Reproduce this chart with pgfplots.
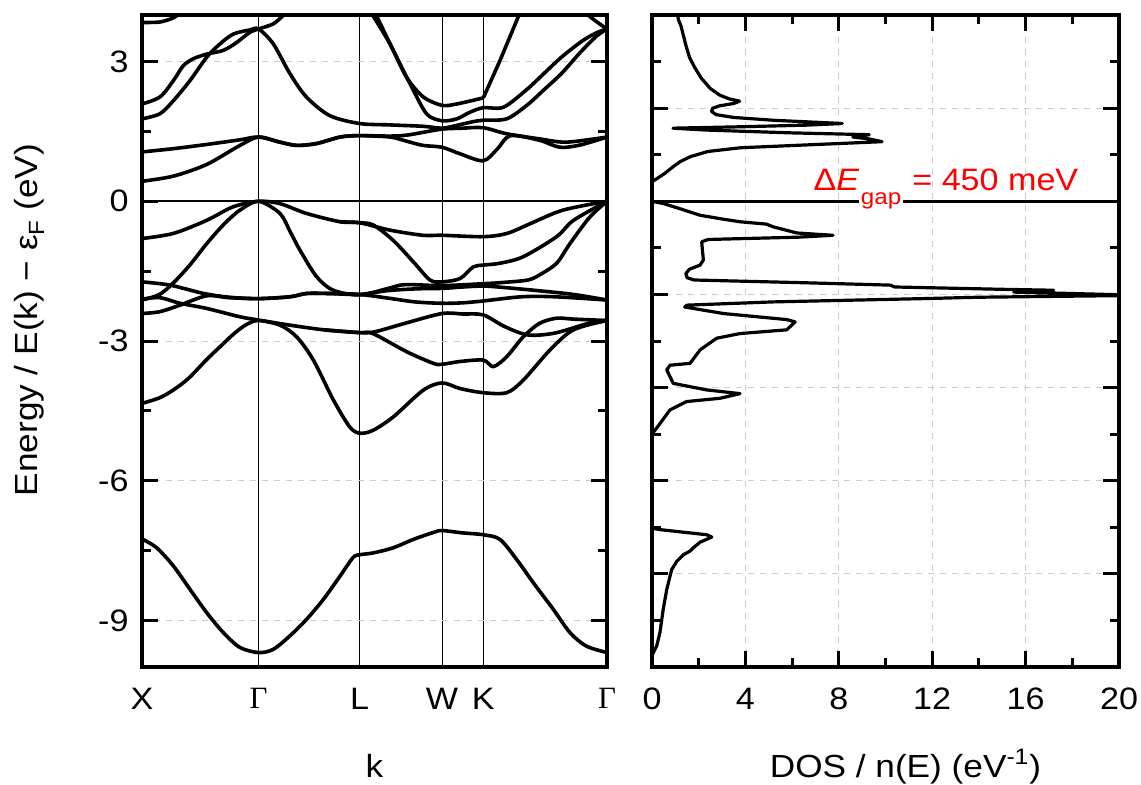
\documentclass[border=0pt]{standalone}
\usepackage{fontspec}
\setmainfont{Liberation Sans}[FakeStretch=1.1]
\newfontfamily\gfont{Liberation Serif}
\usepackage{pgfplots}
\pgfplotsset{compat=1.18}
\setlength{\fboxsep}{0.8pt}
\begin{document}
\begin{tikzpicture}
\useasboundingbox (-71pt,-58.5pt) rectangle (499.5pt,333.5pt);
\pgfplotsset{
  myframe/.style={
    scale only axis, height=326pt,
    ymin=-10, ymax=4,
    axis line style={line width=1.8pt},
    tick style={line width=1.5pt, black},
    major tick length=8pt, minor tick length=4.5pt,
    tick label style={font=\fontsize{15.5}{18}\selectfont},
    /pgf/number format/assume math mode=true,
    label style={font=\fontsize{16}{19}\selectfont},
    xticklabel style={yshift=-7pt},
    yticklabel style={xshift=-3.2pt},
    xlabel style={at={(axis description cs:0.5,0)}, anchor=base, yshift=-55pt},
  },
  band/.style={black, line width=1.8pt, smooth, tension=0.5},
  bandk/.style={black, line width=1.8pt},
  dos/.style={black, line width=1.6pt, line join=round},
}
% ---------------- band structure ----------------
\begin{axis}[myframe,
  at={(0pt,0pt)}, anchor=south west,
  width=232.5pt,
  xmin=0, xmax=3.988,
  xtick={0,1,1.866,2.573,2.927,3.988},
  xticklabels={X,{\gfont Γ},L,W,K,{\gfont Γ}},
  xtick style={draw=none},
  ytick={-9,-6,-3,0,3},
  minor y tick num=1,
  xmajorgrids, ymajorgrids,
  x grid style={black, line width=0.5pt},
  y grid style={dashed, gray!40, line width=0.5pt},
  xlabel={k},
  ylabel={Energy / E(k) − ε\raisebox{-3.5pt}{\fontsize{11}{13}\selectfont F} (eV)},
  ylabel style={at={(axis description cs:-0.2258,0.532)}, anchor=base},
]
% Fermi level
\addplot[black, line width=1pt] coordinates {(0,0) (3.988,0)};
% lowest valence band
\addplot[band] coordinates {(0,-7.25) (0.126,-7.44) (0.269,-7.83) (0.411,-8.33) (0.554,-8.83) (0.697,-9.26) (0.84,-9.58) (1,-9.69) (1.126,-9.62) (1.269,-9.33) (1.41,-8.98) (1.555,-8.55) (1.698,-8.05) (1.81,-7.65) (1.866,-7.59) (1.984,-7.55) (2.155,-7.44) (2.327,-7.26) (2.5,-7.11) (2.573,-7.07) (2.75,-7.12) (2.927,-7.16) (3.07,-7.26) (3.213,-7.69) (3.356,-8.19) (3.527,-8.76) (3.67,-9.26) (3.81,-9.55) (3.988,-9.69)};
% V1
\addplot[band] coordinates {(0,-0.80) (0.269,-0.69) (0.554,-0.41) (0.78,-0.12) (1,0) (1.183,-0.05) (1.41,-0.26) (1.70,-0.44) (1.866,-0.46) (2.127,-0.62) (2.41,-0.73) (2.573,-0.73) (2.927,-0.76) (3.13,-0.69) (3.33,-0.48) (3.61,-0.19) (3.988,0)};
% V2
\addplot[band] coordinates {(1.70,-0.44) (1.866,-0.46) (1.984,-0.51) (2.155,-0.84) (2.327,-1.30) (2.47,-1.69) (2.573,-1.73) (2.727,-1.66) (2.84,-1.41) (2.927,-1.37) (3.07,-1.33) (3.27,-1.19) (3.556,-0.76) (3.70,-0.41) (3.988,0)};
% V3
\addplot[band] coordinates {(0,-2.12) (0.15,-2.0) (0.27,-1.75) (0.41,-1.37) (0.555,-0.91) (0.7,-0.5) (0.84,-0.19) (1,0) (1.183,-0.26) (1.27,-0.65) (1.355,-1.05) (1.498,-1.62) (1.64,-1.91) (1.866,-2.01) (2.113,-1.87) (2.255,-1.79) (2.573,-1.81) (2.927,-1.77) (3.11,-1.74) (3.31,-1.69) (3.41,-1.58) (3.556,-1.33) (3.67,-0.91) (3.84,-0.34) (3.988,0)};
% V4
\addplot[band] coordinates {(0,-1.73) (0.24,-1.80) (0.53,-1.98) (0.75,-2.06) (1,-2.09) (1.27,-2.05) (1.41,-1.98) (1.6,-1.98) (1.866,-2.0) (2.1,-1.92) (2.35,-1.88) (2.573,-1.87) (2.75,-1.84) (2.927,-1.82) (3.1,-1.85) (3.4,-1.92) (3.7,-2.0) (3.988,-2.12)};
% V5
\addplot[band] coordinates {(0,-2.41) (0.154,-2.37) (0.326,-2.23) (0.554,-2.03) (0.75,-2.07) (1,-2.09) (1.27,-2.05) (1.41,-1.98) (1.6,-1.98) (1.866,-2.0) (2.113,-2.08) (2.34,-2.16) (2.573,-2.19) (2.75,-2.18) (2.927,-2.14) (3.256,-2.05) (3.54,-2.05) (3.988,-2.12)};
% V6
\addplot[band] coordinates {(0,-2.1) (0.154,-2.07) (0.326,-2.19) (0.554,-2.30) (0.84,-2.48) (1,-2.55) (1.27,-2.66) (1.56,-2.76) (1.866,-2.82) (2.0,-2.80) (2.255,-2.62) (2.573,-2.41) (2.75,-2.42) (2.927,-2.44) (3.11,-2.69) (3.31,-2.87) (3.54,-2.83) (3.83,-2.62) (3.988,-2.55)};
% V7
\addplot[band] coordinates {(1.56,-2.76) (1.866,-2.82) (1.98,-2.84) (2.27,-3.23) (2.50,-3.48) (2.573,-3.50) (2.727,-3.44) (2.927,-3.41) (3.013,-3.55) (3.127,-3.34) (3.27,-2.91) (3.41,-2.62) (3.556,-2.51) (3.70,-2.53) (3.988,-2.56)};
% V8
\addplot[band] coordinates {(0,-4.34) (0.15,-4.22) (0.27,-4.05) (0.4,-3.8) (0.55,-3.41) (0.7,-3.05) (0.8,-2.82) (0.9,-2.64) (1,-2.56) (1.183,-2.66) (1.326,-2.91) (1.47,-3.41) (1.64,-4.26) (1.78,-4.84) (1.866,-4.98) (1.98,-4.92) (2.155,-4.63) (2.41,-4.06) (2.573,-3.90) (2.727,-4.02) (2.927,-4.11) (3.127,-4.11) (3.27,-3.84) (3.50,-3.19) (3.70,-2.76) (3.988,-2.56)};
% conduction bands
\addplot[band] coordinates {(0,0.43) (0.269,0.54) (0.554,0.79) (0.84,1.20) (1,1.38) (1.183,1.27) (1.326,1.20) (1.498,1.24) (1.70,1.38) (1.866,1.41) (2.127,1.38) (2.27,1.29) (2.41,1.20) (2.573,1.16) (2.727,1.02) (2.927,0.87) (3.05,1.13) (3.16,1.41) (3.41,1.31) (3.585,1.16) (3.76,1.21) (3.988,1.38)};
\addplot[band] coordinates {(0,1.06) (0.269,1.13) (0.554,1.22) (0.84,1.32) (1,1.38) (1.183,1.27) (1.326,1.20) (1.498,1.24) (1.70,1.38) (1.866,1.41) (2.127,1.40) (2.27,1.42) (2.41,1.48) (2.573,1.55) (2.75,1.57) (2.927,1.58) (3.127,1.45) (3.41,1.34) (3.64,1.27) (3.988,1.38)};
\addplot[band] coordinates {(0,1.77) (0.154,1.88) (0.269,2.16) (0.411,2.59) (0.554,3.09) (0.669,3.38) (0.783,3.59) (0.926,3.68) (1,3.70) (1.126,3.38) (1.269,2.74) (1.41,2.24) (1.61,1.84) (1.866,1.67) (2.127,1.64) (2.413,1.61) (2.573,1.57) (2.70,1.63) (2.84,1.71) (2.927,1.74) (3.127,1.77) (3.30,2.06) (3.45,2.40) (3.6,2.75) (3.76,3.20) (3.9,3.55) (3.988,3.70)};
\addplot[band] coordinates {(0,2.09) (0.154,2.24) (0.269,2.59) (0.354,2.91) (0.44,3.06) (0.554,3.16) (0.697,3.24) (0.812,3.41) (0.926,3.63) (1,3.70) (1.126,3.81) (1.21,3.99) (1.25,4.1)};
\addplot[band] coordinates {(0,3.84) (0.154,3.85) (0.269,3.94) (0.33,4.05)};
\addplot[band] coordinates {(3.80,4.05) (3.86,3.93) (3.93,3.80) (3.988,3.70)};
\addplot[band] coordinates {(1.96,4.1) (1.98,3.99) (2.127,3.38) (2.27,2.66) (2.413,2.24) (2.573,2.06) (2.70,2.09) (2.927,2.22)};
\addplot[bandk] coordinates {(2.927,2.22) (3.07,3.02) (3.25,4.1)};
\addplot[band] coordinates {(1.99,4.1) (2.01,3.99) (2.155,3.24) (2.30,2.52) (2.44,1.88) (2.573,1.73) (2.70,1.77) (2.81,1.91) (2.927,2.01) (3.10,2.02) (3.30,2.40) (3.45,2.75) (3.6,3.1) (3.78,3.45) (3.9,3.62) (3.988,3.70)};
\end{axis}
% ---------------- DOS ----------------
\begin{axis}[myframe,
  at={(255pt,0pt)}, anchor=south west,
  width=233.5pt,
  xmin=0, xmax=20,
  xtick={0,4,8,12,16,20},
  minor x tick num=1,
  ytick={-10,-8,-6,-4,-2,0,2,4},
  minor y tick num=1,
  yticklabels={},
  grid=major,
  major grid style={dashed, gray!40, line width=0.5pt},
  xlabel={DOS / n(E) (eV\textsuperscript{-1})},
  xlabel style={xshift=10pt},
]
\addplot[dos] coordinates {(1.10,4.0) (1.13,3.9) (1.25,3.75) (1.35,3.55) (1.45,3.35) (1.6,3.1) (1.8,2.9) (2.1,2.65) (2.5,2.42) (2.9,2.28) (3.3,2.2) (3.75,2.15) (3.5,2.1) (2.9,2.05) (2.6,2.0) (2.55,1.93) (2.75,1.86) (3.5,1.8) (5.2,1.74) (8.15,1.67) (6.6,1.635) (3.8,1.6) (0.9,1.57) (2.3,1.53) (5.9,1.47) (9.3,1.43) (8.6,1.38) (9.3,1.34) (9.85,1.28) (6.6,1.21) (3.8,1.15) (2.4,1.07) (1.65,0.96) (1.2,0.85) (0.9,0.74) (0.55,0.6) (0.25,0.5) (0.0,0.42)};
\addplot[dos] coordinates {(0,0.0) (0.5,-0.05) (1.2,-0.16) (2.06,-0.30) (3.0,-0.38) (3.77,-0.44) (4.9,-0.49) (5.2,-0.55) (6.2,-0.68) (7.75,-0.73) (6.3,-0.77) (2.4,-0.82) (2.13,-0.87) (2.15,-1.0) (2.2,-1.26) (2.06,-1.37) (1.6,-1.46) (1.45,-1.55) (1.5,-1.64) (1.8,-1.69) (6.6,-1.75) (10.2,-1.80) (10.4,-1.84) (15.0,-1.89) (17.2,-1.91) (15.5,-1.95) (17.2,-1.97) (21,-2.02) (14,-2.06) (11.6,-2.09) (5.2,-2.16) (1.5,-2.23) (1.4,-2.27) (3.06,-2.41) (5.77,-2.54) (6.13,-2.59) (5.77,-2.76) (3.77,-2.84) (2.77,-2.94) (2.06,-3.19) (1.63,-3.48) (0.77,-3.52) (0.63,-3.62) (0.91,-3.91) (2.34,-4.05) (3.77,-4.13) (2.91,-4.23) (1.48,-4.30) (0.77,-4.48) (0.3,-4.8) (0.0,-5.0)};
\addplot[dos] coordinates {(0,-7.02) (0.34,-7.05) (2.34,-7.16) (2.56,-7.21) (2.06,-7.32) (1.77,-7.44) (1.63,-7.51) (1.34,-7.59) (1.06,-7.73) (0.84,-7.91) (0.63,-8.34) (0.48,-8.76) (0.34,-9.26) (0.20,-9.55) (0.0,-9.75)};
\addplot[black, line width=1.4pt] coordinates {(0,0) (20,0)};
\node[red, anchor=base west, inner sep=0, font=\fontsize{15.5}{18}\selectfont] at (axis cs:6.9,0.236) {Δ\textit{E}\raisebox{-7pt}{\colorbox{white}{\fontsize{11}{13}\selectfont gap}} = 450 meV};
\end{axis}
\end{tikzpicture}
\end{document}
